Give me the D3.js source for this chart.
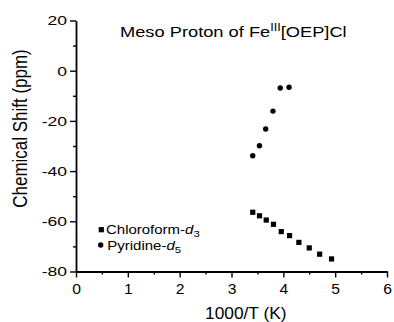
<!DOCTYPE html>
<html>
<head>
<meta charset="utf-8">
<script src="https://cdn.jsdelivr.net/npm/d3@7"></script>
<style>
  body { margin: 0; background: #fff; }
  text { font-family: "Liberation Sans", Arial, sans-serif; fill: #000; }
</style>
</head>
<body>
<div id="chart"></div>
<script>
// data
const chloroX = [3.41, 3.54, 3.67, 3.81, 3.96, 4.12, 4.30, 4.50, 4.70, 4.93];
const chloroY = [-56.4, -57.8, -59.5, -61.2, -64.1, -65.7, -68.4, -70.6, -73.1, -75.0];
const pyridX = [3.41, 3.54, 3.66, 3.80, 3.94, 4.11];
const pyridY = [-33.9, -29.9, -23.2, -16.1, -6.9, -6.6];
const xTicks = [0, 1, 2, 3, 4, 5, 6];
const xMinor = [0.5, 1.5, 2.5, 3.5, 4.5, 5.5];
const yTicks = [-80, -60, -40, -20, 0, 20];
const yMinor = [-70, -50, -30, -10, 10];

const w = 394, h = 322;
const svg = d3.select("#chart").append("svg")
  .attr("width", w)
  .attr("height", h);

const x = d3.scaleLinear().domain([0, 6]).range([76, 387]);
const y = d3.scaleLinear().domain([-80, 20]).range([271.5, 20.5]);

// stretch text horizontally (the reference font is wide)
function stretch(sel, s) {
  sel.each(function () {
    const t = d3.select(this);
    const x0 = +t.attr("x") || 0;
    t.attr("x", x0 / s).attr("transform", `scale(${s},1)`);
  });
}

// plain hyphen, no decimals
const fmt = (d) => String(d);

// minor ticks first, then major axes
svg.append("g")
  .attr("transform", `translate(0,${y(-80)})`)
  .call(d3.axisBottom(x).tickValues(xMinor).tickSize(3).tickFormat(""))
  .call(g => g.select(".domain").remove());
svg.append("g")
  .attr("transform", `translate(${x(0)},0)`)
  .call(d3.axisLeft(y).tickValues(yMinor).tickSize(3).tickFormat(""))
  .call(g => g.select(".domain").remove());

const xAxis = svg.append("g")
  .attr("transform", `translate(0,${y(-80)})`)
  .call(d3.axisBottom(x).tickValues(xTicks).tickFormat(fmt).tickSize(6).tickSizeOuter(0).tickPadding(6.5));
const yAxis = svg.append("g")
  .attr("transform", `translate(${x(0)},0)`)
  .call(d3.axisLeft(y).tickValues(yTicks).tickFormat(fmt).tickSize(6).tickSizeOuter(0).tickPadding(3));

svg.selectAll(".tick line").attr("stroke", "#000").attr("stroke-width", 1.4);
svg.selectAll(".domain").attr("stroke", "#000").attr("stroke-width", 1.8);
xAxis.selectAll("text").style("font-size", "14px");
yAxis.selectAll("text").style("font-size", "13.5px");
stretch(xAxis.selectAll("text"), 1.12);
stretch(yAxis.selectAll("text"), 1.3);

// chloroform squares
const sq = 5.2;
svg.selectAll(".sq")
  .data(chloroX)
  .join("rect")
  .attr("class", "sq")
  .attr("x", (d) => x(d) - sq / 2)
  .attr("y", (d, i) => y(chloroY[i]) - sq / 2)
  .attr("width", sq)
  .attr("height", sq)
  .attr("fill", "#000");

// pyridine circles
svg.selectAll(".dot")
  .data(pyridX)
  .join("circle")
  .attr("class", "dot")
  .attr("cx", (d) => x(d))
  .attr("cy", (d, i) => y(pyridY[i]))
  .attr("r", 2.7)
  .attr("fill", "#000");

// title
const title = svg.append("g").attr("transform", "translate(120,37) scale(1.26,1)");
const tt = title.append("text").style("font-size", "14.5px");
tt.append("tspan").text("Meso Proton of Fe");
tt.append("tspan").attr("dy", -6.5).style("font-size", "10px").text("III");
tt.append("tspan").attr("dy", 6.5).text("[OEP]Cl");

// y label
svg.append("text")
  .attr("transform", "translate(27,128.5) scale(1.15,1) rotate(-90)")
  .attr("text-anchor", "middle")
  .style("font-size", "17px")
  .text("Chemical Shift (ppm)");

// x label
svg.append("text")
  .attr("transform", "translate(205,319.3) scale(1.05,1)")
  .style("font-size", "16.5px")
  .text("1000/T (K)");

// legend
const legend = svg.append("g");
legend.append("rect")
  .attr("x", 101.3 - sq / 2).attr("y", 229.7 - sq / 2)
  .attr("width", sq).attr("height", sq).attr("fill", "#000");
legend.append("circle")
  .attr("cx", 100.7).attr("cy", 245).attr("r", 2.7).attr("fill", "#000");

const l1 = legend.append("text")
  .attr("transform", "translate(106,234) scale(1.19,1)")
  .style("font-size", "12.6px");
l1.append("tspan").text("Chloroform-");
l1.append("tspan").style("font-style", "italic").text("d");
l1.append("tspan").attr("dy", 3).style("font-size", "9.5px").text("3");

const l2 = legend.append("text")
  .attr("transform", "translate(107.3,249.5) scale(1.19,1)")
  .style("font-size", "12.6px");
l2.append("tspan").text("Pyridine-");
l2.append("tspan").style("font-style", "italic").text("d");
l2.append("tspan").attr("dy", 3).style("font-size", "9.5px").text("5");
</script>
</body>
</html>
